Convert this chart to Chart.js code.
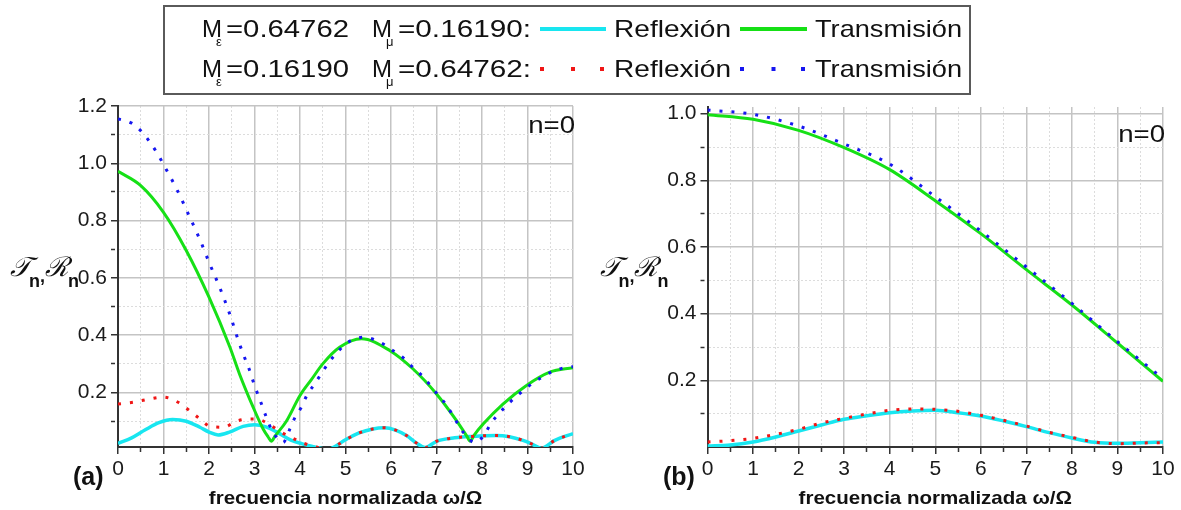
<!DOCTYPE html>
<html>
<head>
<meta charset="utf-8">
<title>Reflexión y transmisión, n=0</title>
<script src="https://cdn.jsdelivr.net/npm/chart.js@4.4.0/dist/chart.umd.min.js"></script>
<style>
    body { margin: 0; background: #fff; }
    #wrap { position: relative; width: 1181px; height: 510px; }
    #wrap canvas { position: absolute; left: 0; top: 0; }
</style>
</head>
<body>
<div id="wrap">
    <canvas id="chartA" width="1181" height="510"></canvas>
    <canvas id="chartB" width="1181" height="510"></canvas>
</div>
<script>
    // ---- panel (a) ----
    const xCyanA = [0, 0.3, 0.6, 0.9, 1.2, 1.5, 1.8, 2.0, 2.2, 2.45, 2.75, 3.0, 3.25, 3.5, 3.8, 4.05, 4.3, 4.5, 4.6, 4.75, 5.0, 5.3, 5.6, 5.85, 6.1, 6.35, 6.55, 6.75, 7.0, 7.4, 7.8, 8.3, 8.6, 8.9, 9.1, 9.3, 9.6, 10];
    const yCyanA = [0.023, 0.042, 0.07, 0.095, 0.106, 0.1, 0.079, 0.062, 0.052, 0.062, 0.082, 0.088, 0.08, 0.061, 0.034, 0.021, 0.011, 0.004, 0.0, 0.01, 0.035, 0.059, 0.073, 0.077, 0.069, 0.049, 0.025, 0.008, 0.03, 0.042, 0.047, 0.05, 0.046, 0.033, 0.02, 0.006, 0.033, 0.057];

    const xRedA = [0, 0.33, 0.65, 1.0, 1.32, 1.54, 1.77, 2.03, 2.32, 2.6, 2.9, 3.05, 3.3, 3.55, 3.8, 4.05, 4.3, 4.5, 4.6, 4.75, 5.0, 5.3, 5.6, 5.85, 6.1, 6.35, 6.55, 6.75, 7.0, 7.4, 7.8, 8.3, 8.6, 8.9, 9.1, 9.3, 9.6, 10];
    const yRedA = [0.16, 0.166, 0.176, 0.184, 0.166, 0.141, 0.112, 0.082, 0.079, 0.1, 0.108, 0.108, 0.091, 0.065, 0.044, 0.025, 0.012, 0.004, 0.0, 0.01, 0.035, 0.059, 0.073, 0.077, 0.069, 0.049, 0.025, 0.008, 0.03, 0.042, 0.047, 0.05, 0.046, 0.033, 0.02, 0.006, 0.033, 0.057];

    const xGreenA = [0, 0.5, 1.0, 1.5, 2.0, 2.46, 2.67, 2.97, 3.19, 3.3, 3.37, 3.45, 3.7, 4.0, 4.25, 4.5, 4.87, 5.35, 5.97, 6.48, 7.0, 7.44, 7.67, 7.74, 7.82, 8.03, 8.46, 8.97, 9.49, 10];
    const yGreenA = [0.972, 0.922, 0.829, 0.696, 0.533, 0.358, 0.265, 0.149, 0.073, 0.045, 0.03, 0.048, 0.1, 0.19, 0.245, 0.3, 0.358, 0.388, 0.347, 0.283, 0.195, 0.102, 0.047, 0.03, 0.05, 0.091, 0.16, 0.224, 0.271, 0.287];

    const xBlueA = [0, 0.29, 0.51, 0.7, 0.87, 1.0, 1.3, 1.56, 1.81, 2.0, 2.24, 2.46, 2.65, 2.75, 2.88, 3.0, 3.13, 3.25, 3.37, 3.48, 3.63, 3.77, 3.88, 4.03, 4.15, 4.32, 4.49, 4.65, 4.84, 5.02, 5.4, 5.86, 6.01, 6.27, 6.48, 6.7, 7.0, 7.2, 7.36, 7.52, 7.69, 7.83, 7.93, 8.04, 8.2, 8.4, 8.6, 8.82, 9.02, 9.28, 9.56, 9.85, 10];
    const yBlueA = [1.155, 1.141, 1.112, 1.074, 1.033, 0.996, 0.907, 0.818, 0.73, 0.655, 0.565, 0.472, 0.379, 0.335, 0.283, 0.225, 0.17, 0.118, 0.072, 0.045, 0.026, 0.07, 0.11, 0.149, 0.19, 0.23, 0.271, 0.309, 0.344, 0.372, 0.393, 0.367, 0.35, 0.321, 0.288, 0.256, 0.198, 0.16, 0.12, 0.077, 0.042, 0.026, 0.032, 0.05, 0.093, 0.131, 0.164, 0.195, 0.222, 0.25, 0.274, 0.288, 0.29];

    // ---- panel (b) ----
    const xB = [0, 1, 2, 3, 4, 5, 6, 7, 8, 9, 10];
    const yGreenB = [0.997, 0.983, 0.95, 0.898, 0.832, 0.739, 0.64, 0.532, 0.426, 0.312, 0.197];
    const yBlueB = [1.011, 0.998, 0.963, 0.909, 0.849, 0.751, 0.648, 0.54, 0.431, 0.316, 0.205];
    const xBh = [0, 0.5, 1, 1.5, 2, 2.5, 3, 3.5, 4, 4.5, 5, 5.5, 6, 6.5, 7, 7.5, 8, 8.5, 9, 9.5, 10];
    const yCyanB = [0.003, 0.006, 0.015, 0.03, 0.048, 0.066, 0.083, 0.094, 0.103, 0.108, 0.11, 0.103, 0.093, 0.078, 0.061, 0.043, 0.027, 0.014, 0.011, 0.013, 0.015];
    const yRedB = [0.015, 0.019, 0.026, 0.038, 0.053, 0.072, 0.086, 0.099, 0.11, 0.114, 0.113, 0.107, 0.095, 0.08, 0.063, 0.044, 0.029, 0.015, 0.01, 0.012, 0.013];

    // ticks and texts
    const xTicks = [0, 0.5, 1, 1.5, 2, 2.5, 3, 3.5, 4, 4.5, 5, 5.5, 6, 6.5, 7, 7.5, 8, 8.5, 9, 9.5, 10];
    const yTicksA = [0.1, 0.2, 0.3, 0.4, 0.5, 0.6, 0.7, 0.8, 0.9, 1.0, 1.1, 1.2];
    const yTicksB = [0.1, 0.2, 0.3, 0.4, 0.5, 0.6, 0.7, 0.8, 0.9, 1.0];
    const seriesNames = ['Reflexión', 'Transmisión'];
    const legendParams = [['0.64762', '0.16190'], ['0.16190', '0.64762']];
    const xTitle = 'frecuencia normalizada ω/Ω';
    const yTitle = ['𝒯', 'n', ',', 'ℛ', 'n'];

    const FONT = '"Liberation Sans", Arial, sans-serif';
    const COL = { cyan: '#18e6f0', green: '#16e016', red: '#f01616', blue: '#1616f0' };

    function ds(label, xs, ys, color, dotted, order) {
        return {
            label: label,
            order: order,
            data: xs.map((x, i) => ({ x: x, y: ys[i] })),
            borderColor: color,
            borderWidth: dotted ? 3 : (color === COL.cyan ? 3.5 : 3),
            borderDash: dotted ? [3, 9] : [],
            pointRadius: 0,
            cubicInterpolationMode: 'monotone',
            fill: false
        };
    }

    const majorX = v => Math.abs(v - Math.round(v)) < 1e-6;
    const majorY = v => Math.round(v * 10) % 2 === 0;

    function axisX(bottom) {
        const val = c => (c.tick ? c.tick.value : 0);
        return {
            type: 'linear', min: 0, max: 10,
            afterBuildTicks: s => { s.ticks = xTicks.map(v => ({ value: v })); },
            afterFit: s => { s.height = 510 - bottom; },
            ticks: {
                autoSkip: false, maxRotation: 0, padding: 3, color: '#1a1a1a',
                font: { family: FONT, size: 21 },
                callback: v => majorX(v) ? String(Math.round(v)) : ''
            },
            grid: {
                color: c => majorX(val(c)) ? '#c4c4c4' : '#dcdcdc',
                lineWidth: c => majorX(val(c)) ? 1.5 : 1,
                tickLength: 7, tickColor: '#333', tickWidth: 1.5,
                tickBorderDash: c => majorX(val(c)) ? [] : [4, 100]
            },
            border: { color: '#333', width: 2, dash: c => (c.tick && !majorX(c.tick.value)) ? [2, 2] : [] }
        };
    }

    function axisY(min, max, ticks, width) {
        const val = c => (c.tick ? c.tick.value : 0.2);
        return {
            type: 'linear', min: min, max: max,
            afterBuildTicks: s => { s.ticks = ticks.map(v => ({ value: v })); },
            afterFit: s => { s.width = width; },
            ticks: {
                autoSkip: false, padding: 4, color: '#1a1a1a',
                font: { family: FONT, size: 21 },
                callback: v => majorY(v) ? v.toFixed(1) : ''
            },
            grid: {
                color: c => majorY(val(c)) ? '#c4c4c4' : '#dcdcdc',
                lineWidth: c => majorY(val(c)) ? 1.5 : 1,
                tickLength: 7, tickColor: '#333', tickWidth: 1.5,
                tickBorderDash: c => majorY(val(c)) ? [] : [4, 100]
            },
            border: { color: '#333', width: 2, dash: c => (c.tick && !majorY(c.tick.value)) ? [2, 2] : [] }
        };
    }

    function txt(ctx, s, x, y, font, align, sx) {
        ctx.save();
        ctx.font = font;
        ctx.textAlign = align || 'left';
        ctx.textBaseline = 'alphabetic';
        ctx.translate(x, y);
        ctx.scale(sx || 1, 1);
        ctx.fillText(s, 0, 0);
        const w = ctx.measureText(s).width * (sx || 1);
        ctx.restore();
        return w;
    }

    // text squeezed or stretched to span x1..x2
    function txtFit(ctx, s, x1, x2, y, font) {
        ctx.save();
        ctx.font = font;
        const w = ctx.measureText(s).width;
        ctx.restore();
        txt(ctx, s, x1, y, font, 'left', (x2 - x1) / w);
    }

    function drawYTitle(ctx, x, y) {
        ctx.fillStyle = '#111';
        let w = txt(ctx, yTitle[0], x, y, 'italic 27px "DejaVu Serif"');
        x += w - 2;
        w = txt(ctx, yTitle[1], x, y + 11, 'bold 18px ' + FONT);
        x += w;
        w = txt(ctx, yTitle[2], x, y + 6, 'bold 18px ' + FONT);
        x += w;
        w = txt(ctx, yTitle[3], x, y, 'italic 27px "DejaVu Serif"');
        x += w - 1;
        txt(ctx, yTitle[4], x, y + 11, 'bold 18px ' + FONT);
    }

    function drawSample(ctx, x1, x2, y, color, dotted) {
        ctx.save();
        if (dotted) {
            ctx.fillStyle = color;
            [x1 + 2, (x1 + x2) / 2, x2 - 4].forEach(x => ctx.fillRect(x - 2, y - 2, 4, 4));
        } else {
            ctx.strokeStyle = color;
            ctx.lineWidth = 4;
            ctx.beginPath();
            ctx.moveTo(x1, y);
            ctx.lineTo(x2, y);
            ctx.stroke();
        }
        ctx.restore();
    }

    function drawLegend(ctx) {
        ctx.save();
        ctx.fillStyle = '#fff';
        ctx.fillRect(164, 6, 806, 88);
        ctx.strokeStyle = '#5a5a5a';
        ctx.lineWidth = 2;
        ctx.strokeRect(164, 6, 806, 88);
        ctx.fillStyle = '#111';
        const big = '24px ' + FONT, small = '13px ' + FONT;
        const samples = [[COL.cyan, COL.green, false], [COL.red, COL.blue, true]];
        [37, 77].forEach((y, r) => {
            txt(ctx, 'M', 202, y, big);
            txt(ctx, 'ε', 216, y + 9, small);
            txtFit(ctx, '=' + legendParams[r][0], 226, 349, y, big);
            txt(ctx, 'M', 372, y, big);
            txt(ctx, 'μ', 386, y + 9, small);
            txtFit(ctx, '=' + legendParams[r][1] + ':', 398, 531, y, big);
            const s = samples[r];
            drawSample(ctx, 540, 606, y - 8, s[0], s[2]);
            txtFit(ctx, seriesNames[0], 614, 731, y, big);
            drawSample(ctx, 740, 807, y - 8, s[1], s[2]);
            txtFit(ctx, seriesNames[1], 815, 962, y, big);
        });
        ctx.restore();
    }

    function panelPlugin(tag, tagX, nY, legend) {
        return {
            id: 'panelText',
            afterDraw(chart) {
                const ctx = chart.ctx, a = chart.chartArea;
                ctx.save();
                ctx.fillStyle = '#111';
                txt(ctx, tag, tagX, 485, 'bold 25px ' + FONT);
                txt(ctx, xTitle, (a.left + a.right) / 2, 504, 'bold 19px ' + FONT, 'center', 1.08);
                txt(ctx, 'n=0', a.right + 2, nY, '24px ' + FONT, 'right', 1.15);
                drawYTitle(ctx, a.left - 108, 276);
                if (legend) drawLegend(ctx);
                ctx.restore();
            }
        };
    }

    function makeChart(id, datasets, pad, yMin, yMax, yTicks, yWidth, plugin) {
        return new Chart(document.getElementById(id), {
            type: 'line',
            data: { datasets: datasets },
            options: {
                responsive: false,
                animation: false,
                layout: { padding: pad },
                plugins: { legend: { display: false }, tooltip: { enabled: false } },
                scales: { x: axisX(447), y: axisY(yMin, yMax, yTicks, yWidth) }
            },
            plugins: [plugin]
        });
    }

    makeChart('chartA', [
        ds('Transmisión 2', xBlueA, yBlueA, COL.blue, true, 0),
        ds('Reflexión 2', xRedA, yRedA, COL.red, true, 1),
        ds('Transmisión 1', xGreenA, yGreenA, COL.green, false, 2),
        ds('Reflexión 1', xCyanA, yCyanA, COL.cyan, false, 3)
    ], { left: 0, top: 106, right: 608, bottom: 0 }, 0.01, 1.2, yTicksA, 118,
        panelPlugin('(a)', 73, 133, true));

    makeChart('chartB', [
        ds('Transmisión 2', xB, yBlueB, COL.blue, true, 0),
        ds('Reflexión 2', xBh, yRedB, COL.red, true, 1),
        ds('Transmisión 1', xB, yGreenB, COL.green, false, 2),
        ds('Reflexión 1', xBh, yCyanB, COL.cyan, false, 3)
    ], { left: 590, top: 107, right: 18, bottom: 0 }, 0, 1.02, yTicksB, 117.5,
        panelPlugin('(b)', 663, 142, false));
</script>
</body>
</html>
